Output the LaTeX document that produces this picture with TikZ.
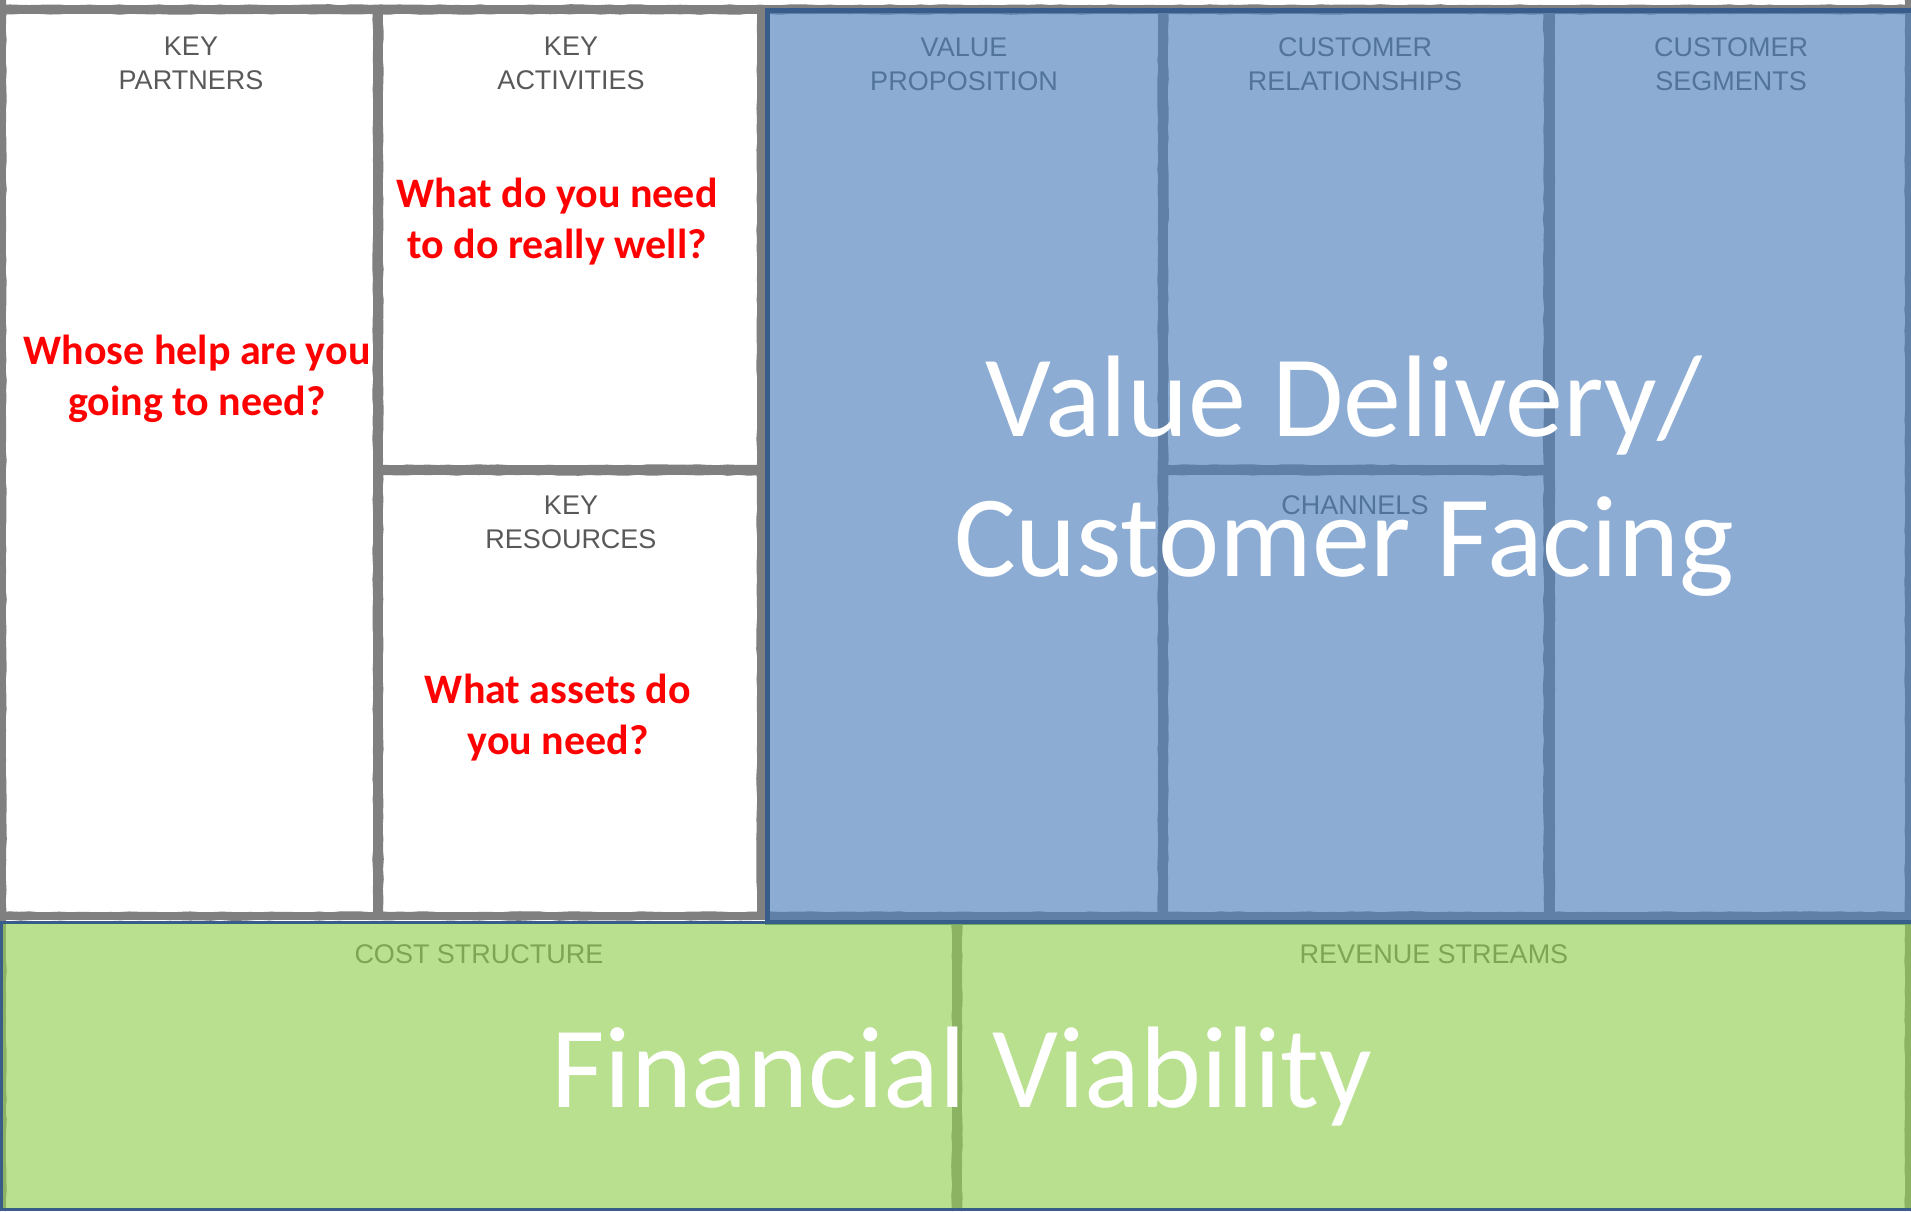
\documentclass[tikz,border=0pt]{standalone}
\usepackage{fontspec}
\setmainfont{Carlito}
\newfontfamily\hdrfont{Liberation Sans}
\usetikzlibrary{decorations.pathmorphing}
\definecolor{linegray}{HTML}{808080}
\definecolor{hdrgray}{HTML}{595959}
\definecolor{ovblue}{HTML}{4F81BD}
\definecolor{ovgreen}{HTML}{92D050}
\definecolor{edgeblue}{HTML}{385D8A}
\definecolor{askred}{HTML}{FF0000}

% brush-like canvas strokes: a solid band with two ragged edges
\newcommand\canvasH[4]{% x1, x2, y, width
  \draw[stroke=#4pt] (#1,#3) -- (#2,#3);
  \draw[roughedge] (#1,#3-#4/2+0.5) -- (#2,#3-#4/2+0.5);
  \draw[roughedge] (#1,#3+#4/2-0.5) -- (#2,#3+#4/2-0.5);
}
\newcommand\canvasV[4]{% x, y1, y2, width
  \draw[stroke=#4pt] (#1,#2) -- (#1,#3);
  \draw[roughedge] (#1-#4/2+0.5,#2) -- (#1-#4/2+0.5,#3);
  \draw[roughedge] (#1+#4/2-0.5,#2) -- (#1+#4/2-0.5,#3);
}

\begin{document}
\begin{tikzpicture}[x=1pt,y=-1pt,
  stroke/.style={draw=linegray, line width=#1},
  roughedge/.style={draw=linegray, line width=1.2pt, decorate,
    decoration={random steps, segment length=10pt, amplitude=0.7pt}},
  header/.style={anchor=base, inner sep=0pt, text=hdrgray,
    font=\hdrfont\fontsize{27}{34}\selectfont},
  ask/.style={anchor=base, inner sep=0pt, text=askred,
    font=\bfseries\fontsize{42}{51}\selectfont},
  bigtext/.style={anchor=base, inner sep=0pt, text=white,
    font=\fontsize{116}{140}\selectfont},
  panel/.style={draw=edgeblue, line width=#1},
]
\pgfmathsetseed{4242}
\useasboundingbox (0,0) rectangle (1911,1211);
\fill[white] (0,0) rectangle (1911,1211);

% ---- canvas grid ----
\canvasH{0}{1911}{9.5}{9}
\canvasV{3}{0}{1211}{6}
\canvasV{1908}{0}{1211}{6}
\canvasH{0}{1911}{916}{8}
\canvasV{378}{9}{916}{10}
\canvasV{761.5}{9}{916}{9}
\canvasV{1163}{9}{916}{10}
\canvasV{1549}{9}{916}{11}
\canvasH{378}{761.5}{470}{10}
\canvasH{1163}{1549}{470}{10}
\canvasV{957}{916}{1211}{10}

% ---- block titles ----
\node[header] (partners) at (191,55) {\begin{tabular}[t]{@{}c@{}}KEY\\PARTNERS\end{tabular}};
\node[header] (activities) at (571,55) {\begin{tabular}[t]{@{}c@{}}KEY\\ACTIVITIES\end{tabular}};
\node[header] (resources) at (571,514) {\begin{tabular}[t]{@{}c@{}}KEY\\RESOURCES\end{tabular}};
\node[header] (valueprop) at (964,56) {\begin{tabular}[t]{@{}c@{}}VALUE\\PROPOSITION\end{tabular}};
\node[header] (relations) at (1355,56) {\begin{tabular}[t]{@{}c@{}}CUSTOMER\\RELATIONSHIPS\end{tabular}};
\node[header] (segments) at (1731,56) {\begin{tabular}[t]{@{}c@{}}CUSTOMER\\SEGMENTS\end{tabular}};
\node[header] (channels) at (1355,514) {CHANNELS};
\node[header] (cost) at (479,963) {COST STRUCTURE};
\node[header] (revenue) at (1434,963) {REVENUE STREAMS};

% ---- tinted panels ----
\draw[panel=5pt, fill=ovblue, fill opacity=0.65] (767.5,10.5) rectangle (1914,922.5);
\draw[panel=3pt, fill=ovgreen, fill opacity=0.64] (1.5,922.5) rectangle (1914,1209.5);

% ---- questions ----
\node[ask] (askactivities) at (557,207) {\begin{tabular}[t]{@{}c@{}}What do you need\\to do really well?\end{tabular}};
\node[ask] (askpartners) at (197,364) {\begin{tabular}[t]{@{}c@{}}Whose help are you\\going to need?\end{tabular}};
\node[ask] (askresources) at (558,703) {\begin{tabular}[t]{@{}c@{}}What assets do\\you need?\end{tabular}};

% ---- panel captions ----
\node[bigtext] (delivery) at (1344,436) {\begin{tabular}[t]{@{}c@{}}Value Delivery/\\Customer Facing\end{tabular}};
\node[bigtext] (financial) at (962,1107) {Financial Viability};
\end{tikzpicture}
\end{document}
